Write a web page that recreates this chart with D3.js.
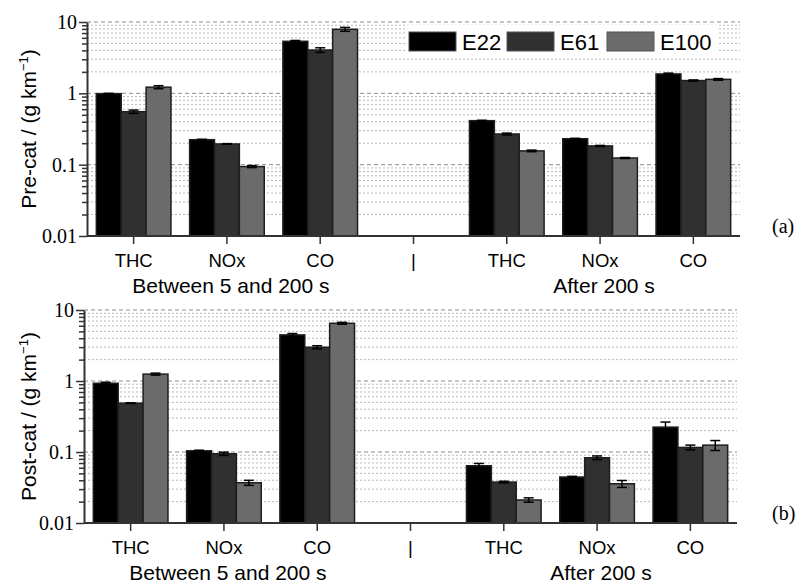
<html>
<head>
    <meta charset="UTF-8" />
    <script src="https://d3js.org/d3.v7.min.js"></script>
    <style>
        body { margin: 0; background: white; }
        .sans { font-family: "Liberation Sans", Arial, sans-serif; }
        .serif { font-family: "Liberation Serif", "Times New Roman", serif; }
    </style>
</head>
<body>
<svg id="chart" width="800" height="585"></svg>
<script>
    // categories along x (index 3 is the "|" separator, no bars)
    const tickLabels = ['THC', 'NOx', 'CO', '|', 'THC', 'NOx', 'CO'];
    const groupLabels = ['Between 5 and 200 s', 'After 200 s'];
    const fuels = ['E22', 'E61', 'E100'];
    const fuelColors = ['#000000', '#303030', '#6b6b6b'];
    const majorTicks = [0.01, 0.1, 1, 10];

    // pre-cat (g/km)
    const preE22 = [0.99, 0.224, 5.36, null, 0.414, 0.231, 1.87];
    const preE61 = [0.553, 0.195, 4.05, null, 0.269, 0.183, 1.51];
    const preE100 = [1.22, 0.094, 7.9, null, 0.156, 0.124, 1.57];
    const preErrE22 = [0.01, 0.003, 0.15, null, 0.005, 0.003, 0.05];
    const preErrE61 = [0.03, 0.002, 0.3, null, 0.008, 0.003, 0.03];
    const preErrE100 = [0.06, 0.003, 0.5, null, 0.004, 0.002, 0.04];

    // post-cat (g/km)
    const postE22 = [0.93, 0.104, 4.46, null, 0.064, 0.0444, 0.224];
    const postE61 = [0.487, 0.0945, 2.99, null, 0.0377, 0.083, 0.116];
    const postE100 = [1.25, 0.0369, 6.5, null, 0.0211, 0.0357, 0.125];
    const postErrE22 = [0.03, 0.002, 0.2, null, 0.005, 0.001, 0.04];
    const postErrE61 = [0.005, 0.005, 0.15, null, 0.001, 0.005, 0.009];
    const postErrE100 = [0.04, 0.003, 0.2, null, 0.0015, 0.004, 0.02];

    const svg = d3.select('svg#chart');

    const panels = [
        {title: 'Pre-cat / (g km', tag: '(a)', left: 87, right: 740, top: 22, bottom: 236,
         values: [preE22, preE61, preE100], errs: [preErrE22, preErrE61, preErrE100], legend: true},
        {title: 'Post-cat / (g km', tag: '(b)', left: 84, right: 737, top: 310, bottom: 523,
         values: [postE22, postE61, postE100], errs: [postErrE22, postErrE61, postErrE100], legend: false}
    ];

    // minor tick values 2..9 for each decade
    let minorTicks = [];
    for (let k = 0; k < majorTicks.length - 1; k++) {
        for (let m = 2; m <= 9; m++) {
            minorTicks.push(m * majorTicks[k]);
        }
    }

    panels.forEach( (p) => {
        const xScale = d3.scaleBand().domain(d3.range(tickLabels.length))
                         .range([p.left, p.right]).paddingInner(0.2).paddingOuter(0.1);
        const xInner = d3.scaleBand().domain(fuels).range([0, xScale.bandwidth()]);
        const yScale = d3.scaleLog().domain([0.01, 10]).range([p.bottom, p.top]);

        // gridlines
        minorTicks.forEach( (t) => {
            svg.append('line')
                .attr('x1', p.left).attr('x2', p.right)
                .attr('y1', yScale(t)).attr('y2', yScale(t))
                .style('stroke', '#b8b8b8')
                .style('stroke-width', '1px')
                .style('stroke-dasharray', '2,2');
        });
        majorTicks.slice(1).forEach( (t) => {
            svg.append('line')
                .attr('x1', p.left).attr('x2', p.right)
                .attr('y1', yScale(t)).attr('y2', yScale(t))
                .style('stroke', '#8c8c8c')
                .style('stroke-width', '1px')
                .style('stroke-dasharray', '4,3');
        });

        // bars
        fuels.forEach( (f, j) => {
            p.values[j].forEach( (v, i) => {
                if (v === null) return;
                const bx = xScale(i) + xInner(f);
                svg.append('rect')
                    .attr('x', bx)
                    .attr('y', yScale(v))
                    .attr('width', xInner.bandwidth())
                    .attr('height', p.bottom - yScale(v))
                    .style('fill', fuelColors[j])
                    .style('stroke', '#1e1e1e')
                    .style('stroke-width', '1.5px');

                const e = p.errs[j][i];
                const cx = bx + xInner.bandwidth() / 2;
                const yHi = yScale(v + e);
                const yLo = yScale(v - e);
                svg.append('line')
                    .attr('x1', cx).attr('x2', cx).attr('y1', yHi).attr('y2', yLo)
                    .style('stroke', 'black').style('stroke-width', '1.5px');
                [yHi, yLo].forEach( (yy) => {
                    svg.append('line')
                        .attr('x1', cx - 5).attr('x2', cx + 5).attr('y1', yy).attr('y2', yy)
                        .style('stroke', 'black').style('stroke-width', '1.5px');
                });
            });
        });

        // x axis
        const xAxis = svg.append('g')
            .attr('transform', `translate(0, ${p.bottom})`)
            .call(d3.axisBottom(xScale).tickSize(8).tickSizeOuter(0)
                  .tickFormat( (i) => tickLabels[i] ));
        xAxis.select('.domain').attr('d', `M${p.left},0H${p.right}`)
             .style('stroke', '#333').style('stroke-width', '2px');
        xAxis.selectAll('.tick line').style('stroke', '#333').style('stroke-width', '1.5px');
        xAxis.selectAll('text')
             .attr('class', 'sans')
             .attr('y', 31).attr('dy', null)
             .style('font-size', '18.5px')
             .style('fill', 'black');

        // y axis minor ticks
        svg.append('g')
            .attr('transform', `translate(${p.left}, 0)`)
            .call(d3.axisLeft(yScale).tickValues(minorTicks).tickSize(5).tickFormat(''))
            .call(g => g.select('.domain').remove())
            .selectAll('.tick line').style('stroke', '#333').style('stroke-width', '1.5px');

        // y axis major ticks
        const yAxis = svg.append('g')
            .attr('transform', `translate(${p.left}, 0)`)
            .call(d3.axisLeft(yScale).tickValues(majorTicks).tickSize(8).tickSizeOuter(0)
                  .tickPadding(2).tickFormat( (d) => String(d) ));
        yAxis.select('.domain').style('stroke', '#333').style('stroke-width', '2px');
        yAxis.selectAll('.tick line').style('stroke', '#333').style('stroke-width', '1.5px');
        yAxis.selectAll('text')
             .attr('class', 'serif')
             .style('font-size', '20px')
             .style('fill', 'black');

        // group labels under the NOx ticks
        [1, 5].forEach( (i, g) => {
            svg.append('text')
                .attr('class', 'sans')
                .attr('x', xScale(i) + xScale.bandwidth() / 2 + 4)
                .attr('y', p.bottom + 57)
                .attr('text-anchor', 'middle')
                .style('font-size', '21px')
                .text(groupLabels[g]);
        });

        // y title
        const title = svg.append('text')
            .attr('class', 'sans')
            .attr('transform', `translate(36, ${(p.top + p.bottom) / 2}) rotate(-90)`)
            .attr('text-anchor', 'middle')
            .style('font-size', '21px');
        title.append('tspan').text(p.title);
        title.append('tspan').attr('dy', -8).style('font-size', '13px').text('\u22121');
        title.append('tspan').attr('dy', 8).text(')');

        // panel tag
        svg.append('text')
            .attr('class', 'serif')
            .attr('x', 772)
            .attr('y', p.bottom - 3)
            .style('font-size', '20px')
            .text(p.tag);

        // legend
        if (p.legend) {
            svg.append('rect')
                .attr('x', 405).attr('y', 25).attr('width', 314).attr('height', 31)
                .style('fill', 'white');
            const legendX = [409, 507, 607];
            fuels.forEach( (f, j) => {
                svg.append('rect')
                    .attr('x', legendX[j]).attr('y', 32)
                    .attr('width', 47).attr('height', 19)
                    .style('fill', fuelColors[j])
                    .style('stroke', '#555').style('stroke-width', '1px');
                svg.append('text')
                    .attr('class', 'sans')
                    .attr('x', legendX[j] + 53).attr('y', 49.5)
                    .style('font-size', '22px')
                    .text(f);
            });
        }
    });
</script>
</body>
</html>
